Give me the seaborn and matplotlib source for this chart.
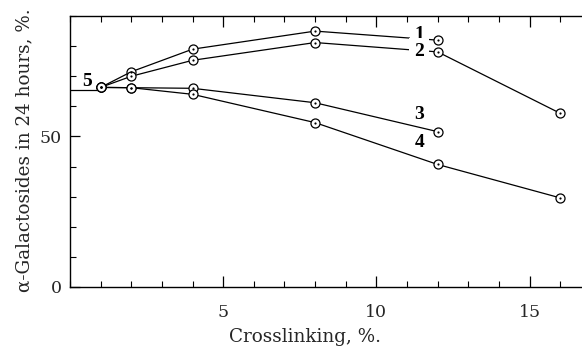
import matplotlib
matplotlib.use("Agg")
import matplotlib.pyplot as plt
import seaborn as sns
import pandas as pd
from matplotlib.ticker import MultipleLocator, FixedLocator

# ---- data ----
x_1 = [1, 2, 4, 8, 12]
y_1 = [66.3, 71.5, 79.0, 85.0, 82.0]
x_2 = [1, 2, 4, 8, 12, 16]
y_2 = [66.3, 70.0, 75.3, 81.2, 78.1, 57.7]
x_3 = [1, 2, 4, 8, 12]
y_3 = [66.3, 66.2, 66.0, 61.2, 51.6]
x_4 = [1, 2, 4, 8, 12, 16]
y_4 = [66.3, 66.2, 64.0, 54.6, 40.7, 29.6]
x_5 = [0, 1]
y_5 = [65.4, 65.4]

curve_labels = ["1", "2", "3", "4", "5"]
label_x = [11.4, 11.4, 11.4, 11.4, 0.56]
label_y = [84.0, 78.2, 57.3, 48.1, 68.3]

xlabel = "Crosslinking, %."
ylabel = "α-Galactosides in 24 hours, %."

frames = []
for name, xs, ys in [("1", x_1, y_1), ("2", x_2, y_2), ("3", x_3, y_3), ("4", x_4, y_4)]:
    frames.append(pd.DataFrame({"x": xs, "y": ys, "series": name}))
df = pd.concat(frames, ignore_index=True)
df5 = pd.DataFrame({"x": x_5, "y": y_5, "series": "5"})

sns.set_theme(style="ticks")
plt.rcParams["font.family"] = ["DejaVu Serif", "Liberation Serif"]

fig = plt.figure(figsize=(5.82, 3.49), dpi=100)
ax = fig.add_axes([0.1203, 0.1777, 0.8797 + 0.002, 0.954 - 0.1777])

lw = 0.9
sns.lineplot(data=df5, x="x", y="y", units="series", estimator=None, sort=False,
             color="black", lw=lw, ax=ax, zorder=2)
sns.lineplot(data=df, x="x", y="y", units="series", estimator=None, sort=False,
             color="black", lw=lw, marker="o", markersize=6.5,
             markerfacecolor="white", markeredgecolor="black",
             markeredgewidth=0.9, ax=ax, zorder=3)
sns.scatterplot(data=df, x="x", y="y", color="black", s=2.5, linewidth=0,
                ax=ax, zorder=5, legend=False)

for t, lx, ly in zip(curve_labels, label_x, label_y):
    kw = {}
    if t in ("1", "2"):
        kw["bbox"] = dict(boxstyle="square,pad=0.25", fc="white", ec="none")
    ax.text(lx, ly, t, ha="center", va="center", fontsize=14, fontweight="bold",
            family=["Liberation Serif", "DejaVu Serif"],
            color="black", zorder=4, **kw)

ax.set_xlim(0, 16.75)
ax.set_ylim(0, 90)

ax.xaxis.set_major_locator(FixedLocator([5, 10, 15]))
ax.xaxis.set_minor_locator(MultipleLocator(1))
ax.yaxis.set_major_locator(FixedLocator([0, 50]))
ax.yaxis.set_minor_locator(MultipleLocator(10))

ax.tick_params(axis="both", which="both", direction="in", color="black",
               top=True, bottom=True, left=True, right=False)
ax.tick_params(axis="x", which="major", length=8, width=0.9, pad=12, labelsize=12.5)
ax.tick_params(axis="x", which="minor", length=4, width=0.8)
ax.tick_params(axis="y", which="major", length=7, width=0.9, pad=6, labelsize=12.5)
ax.tick_params(axis="y", which="minor", length=4, width=0.8)

for s in ["left", "top", "bottom"]:
    ax.spines[s].set_linewidth(1.0)
    ax.spines[s].set_color("black")
ax.spines["right"].set_visible(False)

ax.set_xlabel(xlabel, fontsize=13.2)
ax.set_ylabel(ylabel, fontsize=13.2)
ax.xaxis.set_label_coords(0.457, -0.15)
ax.yaxis.set_label_coords(-0.072, 0.505)

fig.savefig("out.png", dpi=100)
